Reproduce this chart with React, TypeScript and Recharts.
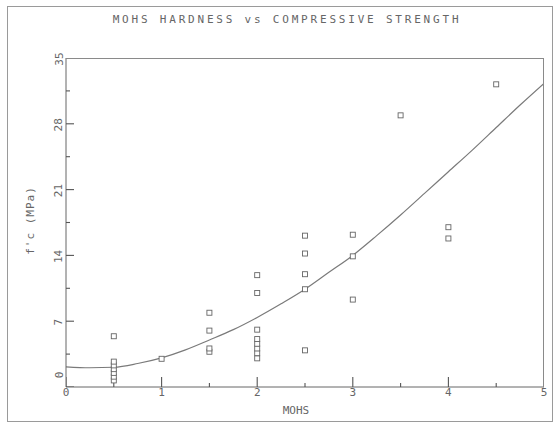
import {
  ComposedChart,
  Scatter,
  Line,
  XAxis,
  YAxis,
} from "recharts";

// ── Data ──────────────────────────────────────────────────────

const mohs = [
  0.5, 0.5, 0.5, 0.5, 0.5, 0.5, 0.5,
  1,
  1.5, 1.5, 1.5, 1.5,
  2, 2, 2, 2, 2, 2, 2, 2,
  2.5, 2.5, 2.5, 2.5, 2.5,
  3, 3, 3,
  3.5,
  4, 4,
  4.5,
];
const strength = [
  0.7, 1.1, 1.5, 1.9, 2.3, 2.7, 5.4,
  3.0,
  3.75, 4.1, 6.0, 7.9,
  3.05, 3.6, 4.1, 4.6, 5.1, 6.1, 10.0, 11.9,
  3.9, 10.4, 12.0, 14.2, 16.1,
  9.3, 13.9, 16.2,
  28.9,
  15.8, 17.0,
  32.2,
];

// fitted curve
const fitX = [0, 0.25, 0.5, 0.75, 1, 1.25, 1.5, 1.75, 2, 2.25, 2.5, 2.75, 3, 3.25, 3.5, 3.75, 4, 4.25, 4.5, 4.75, 5];
const fitY = [2.15, 2.05, 2.1, 2.5, 3.1, 3.95, 5.0, 6.1, 7.4, 8.85, 10.4, 12.2, 14.0, 16.1, 18.3, 20.6, 22.9, 25.2, 27.6, 30.0, 32.3];

const xMajor = [0, 1, 2, 3, 4, 5];
const xMinor = [0.5, 1.5, 2.5, 3.5, 4.5];
const yMajor = [0, 7, 14, 21, 28, 35];
const yMinor = [3.5, 10.5, 17.5, 24.5, 31.5];

const points = mohs.map((x, i) => ({ x, y: strength[i] }));
const curve = fitX.map((x, i) => ({ x, y: fitY[i] }));

// tick marks placed through the chart scales
const xTickMarks = [
  ...xMajor.map((x) => ({ x, y: 0, major: true })),
  ...xMinor.map((x) => ({ x, y: 0, major: false })),
];
const yTickMarks = [
  ...yMajor.map((y) => ({ x: 0, y, major: true })),
  ...yMinor.map((y) => ({ x: 0, y, major: false })),
];

const INK = "#666";
const TICK = "#555";
const FONT = "'DejaVu Sans Mono', monospace";

// ── Tick labels ───────────────────────────────────────────────

function XLabel({ x, y, payload }: any) {
  return (
    <text x={x} y={y + 9} textAnchor="middle" fontSize={11} fill={INK} fontFamily={FONT}>
      {payload.value}
    </text>
  );
}

function YLabel({ x, y, payload }: any) {
  const lx = x - 7;
  const ly = payload.value === 0 ? y - 12 : y + 1;
  return (
    <text
      x={lx}
      y={ly}
      textAnchor="middle"
      dominantBaseline="central"
      fontSize={11}
      fill={INK}
      fontFamily={FONT}
      transform={`rotate(-90 ${lx} ${ly})`}
    >
      {payload.value}
    </text>
  );
}

// ── Marker shapes ─────────────────────────────────────────────

function Square({ cx, cy }: any) {
  return <rect x={cx - 2.5} y={cy - 2.5} width={5} height={5} fill="#fff" stroke={INK} strokeWidth={0.9} />;
}

function XTickMark({ cx, cy, payload }: any) {
  const len = payload?.major ? 10 : 4;
  return <line x1={cx} x2={cx} y1={cy} y2={cy - len} stroke={TICK} strokeWidth={1.1} />;
}

function YTickMark({ cx, cy, payload }: any) {
  const len = payload?.major ? 8 : 4;
  return <line x1={cx} x2={cx + len} y1={cy} y2={cy} stroke={TICK} strokeWidth={1.1} />;
}

// ── App ───────────────────────────────────────────────────────

export default function App() {
  return (
    <div style={{ position: "absolute", left: 0, top: 0, width: 557, height: 423, background: "#fff" }}>
      <div
        style={{
          position: "absolute", left: 7, top: 6, width: 546, height: 416,
          border: "1px solid #9a9a9a", boxSizing: "border-box",
        }}
      />
      <div
        style={{
          position: "absolute", left: 0, top: 13, width: 574, textAlign: "center",
          fontFamily: FONT, fontSize: 11, letterSpacing: 2.8, color: INK,
        }}
      >
        MOHS HARDNESS vs COMPRESSIVE STRENGTH
      </div>
      <div style={{ position: "absolute", left: 30, top: 222, width: 0, height: 0 }}>
        <div
          style={{
            position: "absolute", left: -60, top: -8, width: 120, textAlign: "center",
            transform: "rotate(-90deg)", fontFamily: FONT, fontSize: 11, letterSpacing: 1, color: INK,
          }}
        >
          f'c (MPa)
        </div>
      </div>
      <div
        style={{
          position: "absolute", left: 246, top: 404, width: 100, textAlign: "center",
          fontFamily: FONT, fontSize: 11, color: INK,
        }}
      >
        MOHS
      </div>
      <div style={{ position: "absolute", left: 0, top: 0 }}>
        <ComposedChart
          width={557}
          height={423}
          margin={{ top: 58, right: 13, bottom: 6, left: 26 }}
        >
          <XAxis
            type="number"
            dataKey="x"
            domain={[0, 5]}
            ticks={xMajor}
            interval={0}
            height={30}
            tickSize={0}
            tickMargin={0}
            axisLine={{ stroke: INK }}
            tickLine={false}
            tick={(p: any) => <XLabel {...p} />}
            allowDataOverflow
          />
          <YAxis
            type="number"
            dataKey="y"
            domain={[0, 35]}
            ticks={yMajor}
            interval={0}
            width={40}
            tickSize={0}
            tickMargin={0}
            axisLine={{ stroke: INK }}
            tickLine={false}
            tick={(p: any) => <YLabel {...p} />}
            allowDataOverflow
          />
          <Scatter data={xTickMarks} dataKey="y" shape={<XTickMark />} isAnimationActive={false} />
          <Scatter data={yTickMarks} dataKey="y" shape={<YTickMark />} isAnimationActive={false} />
          <Line
            data={curve}
            dataKey="y"
            type="monotone"
            stroke="#7a7a7a"
            strokeWidth={1.2}
            dot={false}
            isAnimationActive={false}
          />
          <Scatter data={points} dataKey="y" shape={<Square />} isAnimationActive={false} />
        </ComposedChart>
      </div>
      {/* plot frame: top and right edges */}
      <div
        style={{
          position: "absolute", left: 66, top: 58, width: 478, height: 329,
          borderTop: "1px solid #8a8a8a", borderRight: "1px solid #8a8a8a",
          boxSizing: "border-box", pointerEvents: "none",
        }}
      />
    </div>
  );
}
